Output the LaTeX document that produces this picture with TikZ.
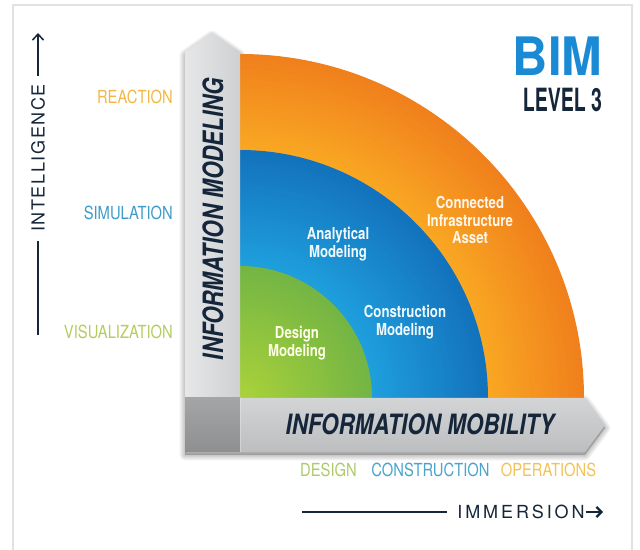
\documentclass[tikz,border=0pt]{standalone}
\usepackage{fontspec}
\usepackage{graphicx}
\usetikzlibrary{calc,arrows.meta}
\newfontfamily\fcond{TeX Gyre Heros}[FakeStretch=0.8]
\newfontfamily\fnarrow{TeX Gyre Heros}[FakeStretch=0.82]
\newfontfamily\fnarrowx{TeX Gyre Heros}[FakeStretch=0.61]
\newfontfamily\fspaced{TeX Gyre Heros}[LetterSpace=9]
\newfontfamily\fspacedw{TeX Gyre Heros}[LetterSpace=16]
\newfontfamily\fheros{TeX Gyre Heros}
\definecolor{navy}{HTML}{16263A}
\definecolor{bimblue}{HTML}{1A8AD4}
\definecolor{framec}{HTML}{E2E2E2}
\definecolor{orout}{HTML}{F0801C}
\definecolor{orin}{HTML}{F9A823}
\definecolor{blout}{HTML}{1372BD}
\definecolor{blin}{HTML}{1FA0DD}
\definecolor{grout}{HTML}{74B544}
\definecolor{grin}{HTML}{AAD23A}
\definecolor{reactc}{HTML}{F2B845}
\definecolor{simc}{HTML}{3D9CC9}
\definecolor{visc}{HTML}{B5CD5E}
\definecolor{desc}{HTML}{AECB6A}
\definecolor{consc}{HTML}{4BA3CF}
\definecolor{opc}{HTML}{F2C356}
\definecolor{vbarL}{HTML}{E6E7E9}
\definecolor{vbarR}{HTML}{CFD0D2}
\definecolor{hbarT}{HTML}{D3D4D6}
\definecolor{hbarB}{HTML}{BDBEC0}
\definecolor{sqT}{HTML}{A4A5A7}
\definecolor{sqB}{HTML}{8E8F91}
\tikzset{
  inlabel/.style={font=\fcond\bfseries\fontsize{16.5}{17.5}\selectfont, align=center, inner sep=0pt},
  sidelabel/.style={font=\fnarrow\fontsize{18}{18}\selectfont, inner sep=0pt},
  barlabel/.style={font=\fcond\bfseries\itshape\fontsize{28}{28}\selectfont, text=navy, inner sep=0pt},
  axisline/.style={draw=navy, line width=1.5pt},
}
\begin{document}
\begin{tikzpicture}[x=1pt,y=1pt]
\useasboundingbox (0,0) rectangle (640,549);
\fill[white] (0,0) rectangle (640,549);
\draw[framec, line width=1.3pt] (13,-10) -- (13,544) -- (632,544) -- (632,-10);
\coordinate (C) at (240,151);
% shadow of the bars
\foreach \k in {1,...,7}{
  \path[fill=black, draw=black, fill opacity=0.03, draw opacity=0.03, line width=\k*1.6pt, line join=round, shift={(0,-3)}]
    (185,97) -- (185,497) -- (212,516) -- (240,497) -- (240,151) -- (585,151) -- (605,124) -- (585,97) -- cycle;
}
% orange ring
\foreach \i in {0,...,30}{
  \pgfmathsetmacro\r{344-(344-248)*\i/30}
  \pgfmathsetmacro\t{100*\i/30}
  \fill[orin!\t!orout] (C) -- ++(\r,0) arc[start angle=0,end angle=90,radius=\r] -- cycle;
}
% blue ring
\foreach \i in {0,...,30}{
  \pgfmathsetmacro\r{248-(248-132)*\i/30}
  \pgfmathsetmacro\t{100*\i/30}
  \fill[blin!\t!blout] (C) -- ++(\r,0) arc[start angle=0,end angle=90,radius=\r] -- cycle;
}
% green
\foreach \i in {0,...,30}{
  \pgfmathsetmacro\r{132-132*\i/31}
  \pgfmathsetmacro\t{100*\i/30}
  \fill[grin!\t!grout] (C) -- ++(\r,0) arc[start angle=0,end angle=90,radius=\r] -- cycle;
}
% bars
\shade[left color=vbarL, right color=vbarR] (185,151) -- (185,497) -- (212,516) -- (240,497) -- (240,151) -- cycle;
\shade[top color=hbarT, bottom color=hbarB] (240,151) -- (585,151) -- (605,124) -- (585,97) -- (240,97) -- cycle;
\shade[top color=sqT, bottom color=sqB] (185,97) rectangle (240,151);
\draw[white, opacity=0.35, line width=0.8pt] (240,151) -- (240,97);
% bar labels
\node[barlabel, rotate=90] (imod) at (213,330) {INFORMATION MODELING};
\node[barlabel] (imob) at (420,125) {INFORMATION MOBILITY};
% ring labels
\node[inlabel, text=white!93!orange] (cia) at (470,329) {Connected\\Infrastructure\\Asset};
\node[inlabel, text=white!94!cyan] (anm) at (338,305) {Analytical\\Modeling};
\node[inlabel, text=white!94!cyan] (com) at (405,227) {Construction\\Modeling};
\node[inlabel, text=white!90!yellow] (dem) at (297,206) {Design\\Modeling};
% title
\node[inner sep=0pt, text=bimblue] (bim) at (557.5,493) {\scalebox{0.92}[1]{\fheros\bfseries\fontsize{53}{53}\selectfont BIM}};
\node[inner sep=0pt, text=navy] (lvl) at (562.5,449) {\fnarrowx\bfseries\fontsize{32}{32}\selectfont LEVEL 3};
% side labels
\node[sidelabel, anchor=east, text=reactc] (react) at (173,452) {REACTION};
\node[sidelabel, anchor=east, text=simc] (sim) at (173,336) {SIMULATION};
\node[sidelabel, anchor=east, text=visc] (vis) at (173,217) {VISUALIZATION};
\node[sidelabel, text=desc] (des) at (328.5,79) {DESIGN};
\node[sidelabel, text=consc] (cons) at (430.5,79) {CONSTRUCTION};
\node[sidelabel, text=opc] (ops) at (548.5,79) {OPERATIONS};
% axes
\node[inner sep=0pt, rotate=90, text=navy, font=\fspaced\fontsize{18}{18}\selectfont] (intel) at (38,391) {INTELLIGENCE};
\coordinate (intelLow) at (38,214);
\coordinate (intelTip) at (38,516);
\draw[axisline] (intelLow) -- ([yshift=-9pt]intel.west);
\draw[axisline, -{Straight Barb[length=6pt,width=11pt]}] ([yshift=8pt]intel.east) -- (intelTip);
\node[inner sep=0pt, text=navy, font=\fspacedw\fontsize{18}{18}\selectfont] (imm) at (521,37) {IMMERSION};
\coordinate (immLow) at (302,37);
\coordinate (immTip) at (603,37);
\draw[axisline] (immLow) -- ([xshift=-10pt]imm.west);
\draw[draw=navy, line width=2.2pt, -{Straight Barb[length=5pt,width=10pt]}] ([xshift=1pt]imm.east) -- (immTip);
\end{tikzpicture}
\end{document}
